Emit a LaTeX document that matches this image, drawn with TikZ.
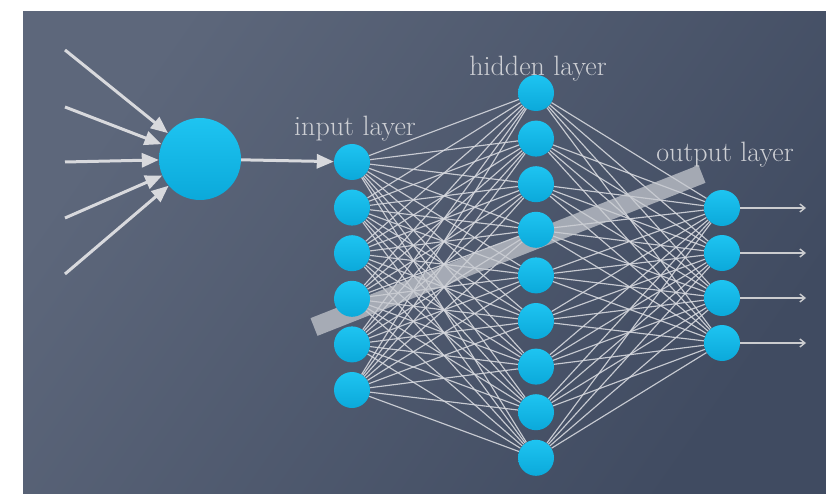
\documentclass[tikz,border=0pt]{standalone}
\usepackage{fontspec}
\usetikzlibrary{arrows.meta}

\definecolor{bgLight}{HTML}{5D677B}
\definecolor{bgDark}{HTML}{404B61}
\definecolor{neuronTop}{HTML}{1EC4F1}
\definecolor{neuronBot}{HTML}{0BA9DA}
\definecolor{wire}{HTML}{D6D8DE}
\definecolor{labelGrey}{HTML}{CDCFD4}
\definecolor{bandGrey}{HTML}{C8CBD1}
\definecolor{arrowGrey}{HTML}{D8D9DD}

\pgfdeclarelayer{backdrop}
\pgfdeclarelayer{wires}
\pgfdeclarelayer{band}
\pgfsetlayers{backdrop,wires,band,main}

\begin{document}
\begin{tikzpicture}[x=1pt,y=-1pt,
  neuron/.style={circle, inner sep=0pt, minimum size=36pt,
    top color=neuronTop, bottom color=neuronBot},
  bigneuron/.style={neuron, minimum size=82pt},
  wire/.style={draw=wire, line width=1.15pt, opacity=0.9},
  inarrow/.style={draw=arrowGrey, line width=3pt,
    -{Triangle[length=17pt,width=14pt]}},
  outarrow/.style={draw=arrowGrey!85!gray, line width=1.4pt,
    -{Straight Barb[length=5pt,width=8pt]}},
  layerlabel/.style={text=labelGrey, anchor=base, inner sep=0pt,
    font=\fontsize{28}{32}\selectfont},
]
\useasboundingbox (0,0) rectangle (826,494);

% page and slide backdrop
\begin{pgfonlayer}{backdrop}
  \fill[white] (0,0) rectangle (826,494);
  \shade[top color=bgLight, bottom color=bgDark, shading angle=55]
    (23,12) rectangle (826,494);
\end{pgfonlayer}

% single neuron
\node[bigneuron] (big) at (200,159) {};

% layers
\foreach \k in {1,...,6}
  \node[neuron] (i\k) at (352,{162+45.6*(\k-1)}) {};
\foreach \k in {1,...,9}
  \node[neuron] (h\k) at (536,{93+45.6*(\k-1)}) {};
\foreach \k in {1,...,4}
  \node[neuron] (o\k) at (722,{208+45*(\k-1)}) {};

% layer labels
\node[layerlabel] (inlabel)  at (355,136) {input layer};
\node[layerlabel] (hidlabel) at (538,76)  {hidden layer};
\node[layerlabel] (outlabel) at (725,162) {output layer};

% inputs of the single neuron
\coordinate (s1) at (65,50);
\coordinate (s2) at (65,107);
\coordinate (s3) at (65,162);
\coordinate (s4) at (65,218);
\coordinate (s5) at (65,274);
\foreach \k in {1,...,5}
  \draw[inarrow] (s\k) -- (big);
\draw[inarrow] (big) -- (i1);

% outputs of the network
\coordinate (tend) at (806,0);
\foreach \k in {1,...,4}
  \draw[outarrow] (o\k) -- (o\k -| tend);

% fully connected weights
\begin{pgfonlayer}{wires}
  \foreach \a in {1,...,6}
    \foreach \b in {1,...,9}
      \draw[wire] (i\a) -- (h\b);
  \foreach \b in {1,...,9}
    \foreach \c in {1,...,4}
      \draw[wire] (h\b) -- (o\c);
\end{pgfonlayer}

% translucent band across the network
\begin{pgfonlayer}{band}
  \coordinate (bandA) at (314,327);
  \coordinate (bandB) at (702,174);
  \draw[draw=bandGrey, line width=19pt, opacity=0.72] (bandA) -- (bandB);
\end{pgfonlayer}
\end{tikzpicture}
\end{document}
